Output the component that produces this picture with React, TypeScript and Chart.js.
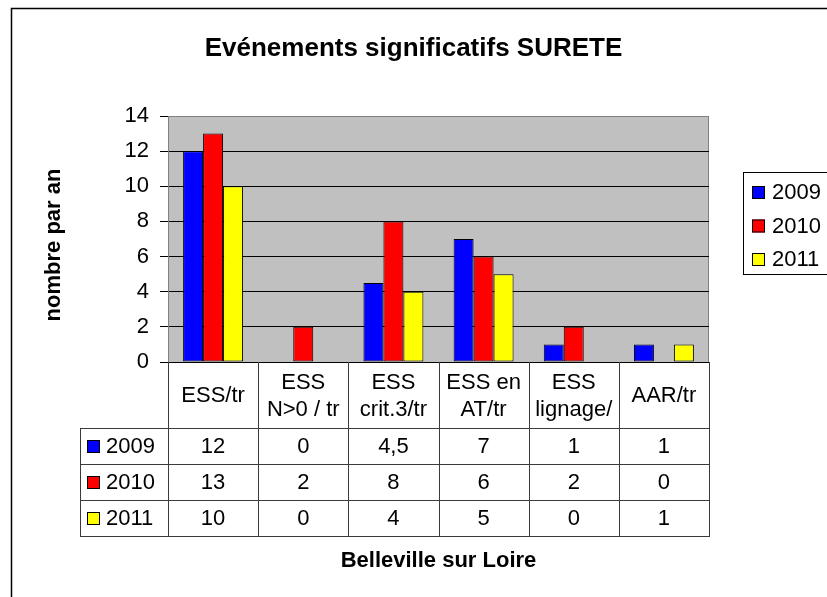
import React, { useEffect, useRef } from "react";
import { Chart, registerables } from "chart.js";

Chart.register(...registerables);

const chartTitle = "Evénements significatifs SURETE";
const yAxisTitle = "nombre par an";
const xAxisTitle = "Belleville sur Loire";
const categories: string[][] = [
  ["ESS/tr"],
  ["ESS", "N>0 / tr"],
  ["ESS", "crit.3/tr"],
  ["ESS en", "AT/tr"],
  ["ESS", "lignage/"],
  ["AAR/tr"],
];
const seriesNames = ["2009", "2010", "2011"];
const values2009 = [12, 0, 4.5, 7, 1, 1];
const values2010 = [13, 2, 8, 6, 2, 0];
const values2011 = [10, 0, 4, 5, 0, 1];
const seriesColors = ["#0000FF", "#FF0000", "#FFFF00"];
const yMin = 0;
const yMax = 14;
const yStep = 2;

const FONT = '"Liberation Sans", Arial, Helvetica, sans-serif';

const fmt = (v: number) => String(v).replace(".", ",");

const decoPlugin = {
  id: "deco",
  beforeDraw(chart: any) {
    const { ctx, chartArea: a } = chart;
    ctx.save();
    ctx.fillStyle = "#FFFFFF";
    ctx.fillRect(0, 0, chart.width, chart.height);
    ctx.fillStyle = "#C0C0C0";
    ctx.fillRect(a.left, a.top, a.right - a.left, a.bottom - a.top);
    ctx.strokeStyle = "#808080";
    ctx.lineWidth = 1;
    ctx.beginPath();
    ctx.moveTo(a.left, a.top + 0.5);
    ctx.lineTo(a.right - 0.5, a.top + 0.5);
    ctx.lineTo(a.right - 0.5, a.bottom);
    ctx.stroke();
    ctx.restore();
  },
  afterDraw(chart: any) {
    const { ctx, chartArea: a } = chart;
    const xs = chart.scales.x;
    ctx.save();

    // outer frame
    ctx.strokeStyle = "#000";
    ctx.lineWidth = 1.5;
    ctx.beginPath();
    ctx.moveTo(11.5, chart.height);
    ctx.lineTo(11.5, 8.5);
    ctx.lineTo(chart.width, 8.5);
    ctx.stroke();

    // title
    ctx.fillStyle = "#000";
    ctx.font = `bold 26px ${FONT}`;
    ctx.textAlign = "center";
    ctx.textBaseline = "alphabetic";
    ctx.fillText(chartTitle, chart.width / 2, 56);

    // y title
    ctx.save();
    ctx.translate(54, (a.top + a.bottom) / 2 + 6);
    ctx.rotate(-Math.PI / 2);
    ctx.font = `bold 22px ${FONT}`;
    ctx.textAlign = "center";
    ctx.textBaseline = "middle";
    ctx.fillText(yAxisTitle, 0, 0);
    ctx.restore();

    // legend
    const datasets = chart.data.datasets;
    ctx.strokeStyle = "#000";
    ctx.lineWidth = 1;
    ctx.strokeRect(743.5, 172.5, 120, 102);
    ctx.font = `22px ${FONT}`;
    ctx.textAlign = "left";
    ctx.textBaseline = "middle";
    datasets.forEach((ds: any, i: number) => {
      const cy = 192 + i * 33.5;
      ctx.fillStyle = ds.backgroundColor;
      ctx.fillRect(752, cy - 6, 13, 13);
      ctx.strokeStyle = "#000";
      ctx.strokeRect(752.5, cy - 5.5, 12, 12);
      ctx.fillStyle = "#000";
      ctx.fillText(ds.label, 772, cy + 1);
    });

    // data table
    const n = categories.length;
    const w = (a.right - a.left) / n;
    const bounds: number[] = [];
    for (let i = 0; i < n; i++) bounds.push(xs.getPixelForValue(i) - w / 2);
    bounds.push(xs.getPixelForValue(n - 1) + w / 2);
    const top = a.bottom;
    const headerBottom = top + 66;
    const rowH = 36;
    const tableBottom = headerBottom + rowH * datasets.length;
    const labelLeft = 80;

    ctx.strokeStyle = "#3a3a3a";
    ctx.lineWidth = 1;
    ctx.beginPath();
    bounds.forEach((bx) => {
      const x = Math.round(bx) + 0.5;
      ctx.moveTo(x, top);
      ctx.lineTo(x, tableBottom);
    });
    ctx.moveTo(labelLeft + 0.5, headerBottom);
    ctx.lineTo(labelLeft + 0.5, tableBottom);
    for (let r = 0; r <= datasets.length; r++) {
      const y = headerBottom + r * rowH + 0.5;
      ctx.moveTo(labelLeft, y);
      ctx.lineTo(Math.round(bounds[n]) + 1, y);
    }
    ctx.stroke();

    ctx.fillStyle = "#000";
    ctx.font = `22px ${FONT}`;
    ctx.textAlign = "center";
    ctx.textBaseline = "middle";
    const headerCenter = top + 34;
    chart.data.labels.forEach((lab: string[], i: number) => {
      const cx = (bounds[i] + bounds[i + 1]) / 2;
      const L = lab.length;
      lab.forEach((line, j) => {
        ctx.fillText(line, cx, headerCenter + (j - (L - 1) / 2) * 27);
      });
    });

    datasets.forEach((ds: any, r: number) => {
      const cy = headerBottom + r * rowH + rowH / 2 + 1;
      ds.data.forEach((v: number, i: number) => {
        const cx = (bounds[i] + bounds[i + 1]) / 2;
        ctx.fillStyle = "#000";
        ctx.textAlign = "center";
        ctx.fillText(fmt(v), cx, cy);
      });
      ctx.fillStyle = ds.backgroundColor;
      ctx.fillRect(87, cy - 7, 13, 13);
      ctx.strokeStyle = "#000";
      ctx.strokeRect(87.5, cy - 6.5, 12, 12);
      ctx.fillStyle = "#000";
      ctx.textAlign = "left";
      ctx.fillText(ds.label, 106, cy);
    });

    // x title
    ctx.font = `bold 22px ${FONT}`;
    ctx.textAlign = "center";
    ctx.textBaseline = "alphabetic";
    ctx.fillText(xAxisTitle, (a.left + a.right) / 2, 567);

    ctx.restore();
  },
};

export default function App() {
  const ref = useRef<HTMLCanvasElement | null>(null);

  useEffect(() => {
    if (!ref.current) return;
    Chart.defaults.font.family = FONT;
    const series = [values2009, values2010, values2011];
    const chart = new Chart(ref.current, {
      type: "bar",
      data: {
        labels: categories as any,
        datasets: series.map((vals, i) => ({
          label: seriesNames[i],
          data: vals,
          backgroundColor: seriesColors[i],
          borderColor: "#000000",
          borderWidth: (c: any) => (c.raw === 0 ? 0 : 1),
          borderSkipped: false,
          categoryPercentage: 0.665,
          barPercentage: 1,
        })),
      },
      options: {
        responsive: false,
        animation: false,
        devicePixelRatio: 1,
        layout: { padding: { left: 0, right: 118, top: 116, bottom: 0 } },
        plugins: {
          legend: { display: false },
          title: { display: false },
          tooltip: { enabled: false },
        },
        scales: {
          x: {
            grid: { display: false },
            border: { display: true, color: "#000000", width: 1 },
            ticks: { display: false },
            afterFit: (s: any) => {
              s.height = 235;
            },
          },
          y: {
            min: yMin,
            max: yMax,
            ticks: {
              stepSize: yStep,
              padding: 11,
              color: "#000000",
              font: { size: 22, family: FONT },
            },
            grid: {
              color: (c: any) => (c.tick && c.tick.value === yMax ? "#808080" : "#000000"),
              tickColor: "#000000",
              tickLength: 8,
              lineWidth: 1,
            },
            border: { display: true, color: "#808080", width: 1 },
            afterFit: (s: any) => {
              s.width = 168;
            },
          },
        },
      },
      plugins: [decoPlugin],
    });
    return () => chart.destroy();
  }, []);

  return (
    <div style={{ position: "absolute", left: 0, top: 0, width: 827, height: 597 }}>
      <canvas ref={ref} width={827} height={597} />
    </div>
  );
}
